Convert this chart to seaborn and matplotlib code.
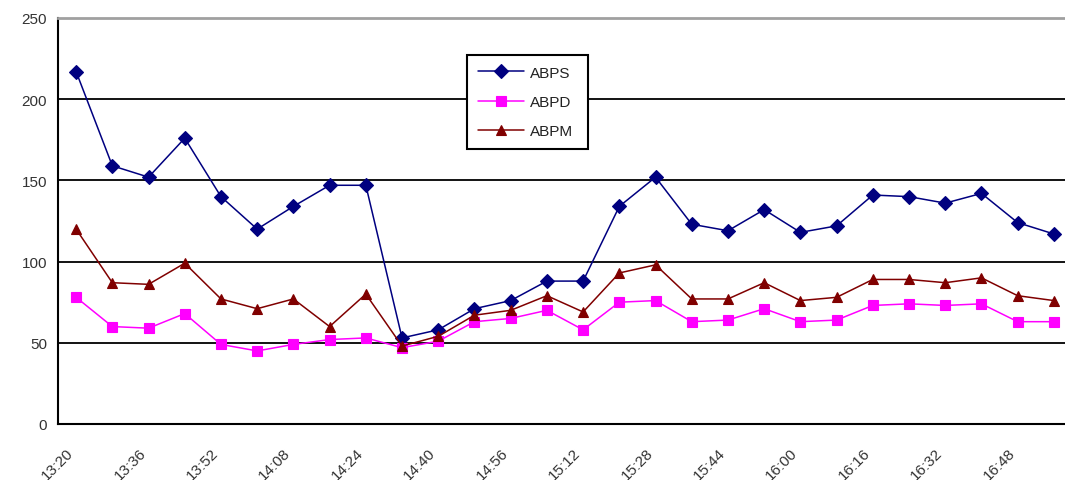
import matplotlib
matplotlib.use("Agg")
import matplotlib.pyplot as plt
import seaborn as sns
import pandas as pd
import numpy as np

# ---- data ----
times = ["13:20", "13:28", "13:36", "13:44", "13:52", "14:00", "14:08", "14:16",
         "14:24", "14:32", "14:40", "14:48", "14:56", "15:04", "15:12", "15:20",
         "15:28", "15:36", "15:44", "15:52", "16:00", "16:08", "16:16", "16:24",
         "16:32", "16:40", "16:48", "16:56"]
abps = [217, 159, 152, 176, 140, 120, 134, 147, 147, 53, 58, 71, 76, 88,
        88, 134, 152, 123, 119, 132, 118, 122, 141, 140, 136, 142, 124, 117]
abpd = [78, 60, 59, 68, 49, 45, 49, 52, 53, 47, 51, 63, 65, 70,
        58, 75, 76, 63, 64, 71, 63, 64, 73, 74, 73, 74, 63, 63]
abpm = [120, 87, 86, 99, 77, 71, 77, 60, 80, 48, 54, 67, 70, 79,
        69, 93, 98, 77, 77, 87, 76, 78, 89, 89, 87, 90, 79, 76]
series_names = ["ABPS", "ABPD", "ABPM"]
series_colors = {"ABPS": "#000080", "ABPD": "#FF00FF", "ABPM": "#800000"}
series_markers = {"ABPS": "D", "ABPD": "s", "ABPM": "^"}
y_ticks = [0, 50, 100, 150, 200, 250]

rows = []
for name, vals in zip(series_names, [abps, abpd, abpm]):
    for i, v in enumerate(vals):
        rows.append({"idx": i, "value": v, "series": name})
df = pd.DataFrame(rows)

sns.set_style("white")
plt.rcParams["font.family"] = ["Liberation Sans", "DejaVu Sans"]

fig = plt.figure(figsize=(10.65, 4.81), dpi=100)
ax = fig.add_axes([58 / 1065, 56 / 481, (1072 - 58) / 1065, (425 - 19) / 481])

sns.lineplot(data=df, x="idx", y="value", hue="series", style="series",
             palette=series_colors, markers=series_markers, dashes=False,
             hue_order=series_names, style_order=series_names,
             linewidth=1.1, markersize=6.8, ax=ax, legend=True)

for ln in ax.lines:
    ln.set_markeredgecolor(ln.get_color())
    ln.set_markerfacecolor(ln.get_color())
    ln.set_markeredgewidth(0.8)
    ln.set_clip_on(False)

n = len(times)
ax.set_xlim(-0.5, n - 0.5)
ax.set_ylim(0, 250)

# y axis
ax.set_yticks(y_ticks)
ax.set_yticklabels([str(t) for t in y_ticks], fontsize=11, color="#333333")
ax.yaxis.grid(True, color="black", linewidth=1.3)
ax.set_axisbelow(True)
gl = ax.get_ygridlines()
gl[0].set_visible(False)
gl[-1].set_visible(False)

# x axis: labels every other category, tick marks at category boundaries
ax.set_xticks(list(range(0, n, 2)))
ax.set_xticklabels([times[i] for i in range(0, n, 2)], rotation=45, ha="right",
                   fontsize=11, color="#333333")
ax.set_xticks(np.arange(-0.5, n, 1.0), minor=True)
ax.tick_params(axis="x", which="major", length=0, pad=15)
ax.tick_params(axis="x", which="minor", length=4, width=1.3, direction="out",
               color="black")
ax.tick_params(axis="y", which="major", length=4, width=1.3, direction="out",
               color="black", pad=4)

ax.set_xlabel("")
ax.set_ylabel("")

for side in ["left", "bottom"]:
    ax.spines[side].set_visible(True)
    ax.spines[side].set_color("black")
    ax.spines[side].set_linewidth(1.5)
ax.spines["right"].set_visible(False)
ax.spines["top"].set_visible(True)
ax.spines["top"].set_color("#A0A0A0")
ax.spines["top"].set_linewidth(2)

# legend
handles, labels = ax.get_legend_handles_labels()
for h in handles:
    h.set_markeredgecolor(h.get_color())
    h.set_markerfacecolor(h.get_color())
leg = ax.legend(handles, labels, loc="upper left",
                bbox_to_anchor=(0.4034, 0.9089, 0.1193, 0.0), mode="expand",
                borderaxespad=0, fontsize=11, frameon=True, fancybox=False,
                handlelength=3.0, handletextpad=0.4, labelspacing=1.0,
                borderpad=0.7)
leg.get_frame().set_edgecolor("black")
leg.get_frame().set_linewidth(1.5)
leg.get_frame().set_alpha(1)
for t in leg.get_texts():
    t.set_color("#222222")

fig.savefig("out.png", dpi=100)
